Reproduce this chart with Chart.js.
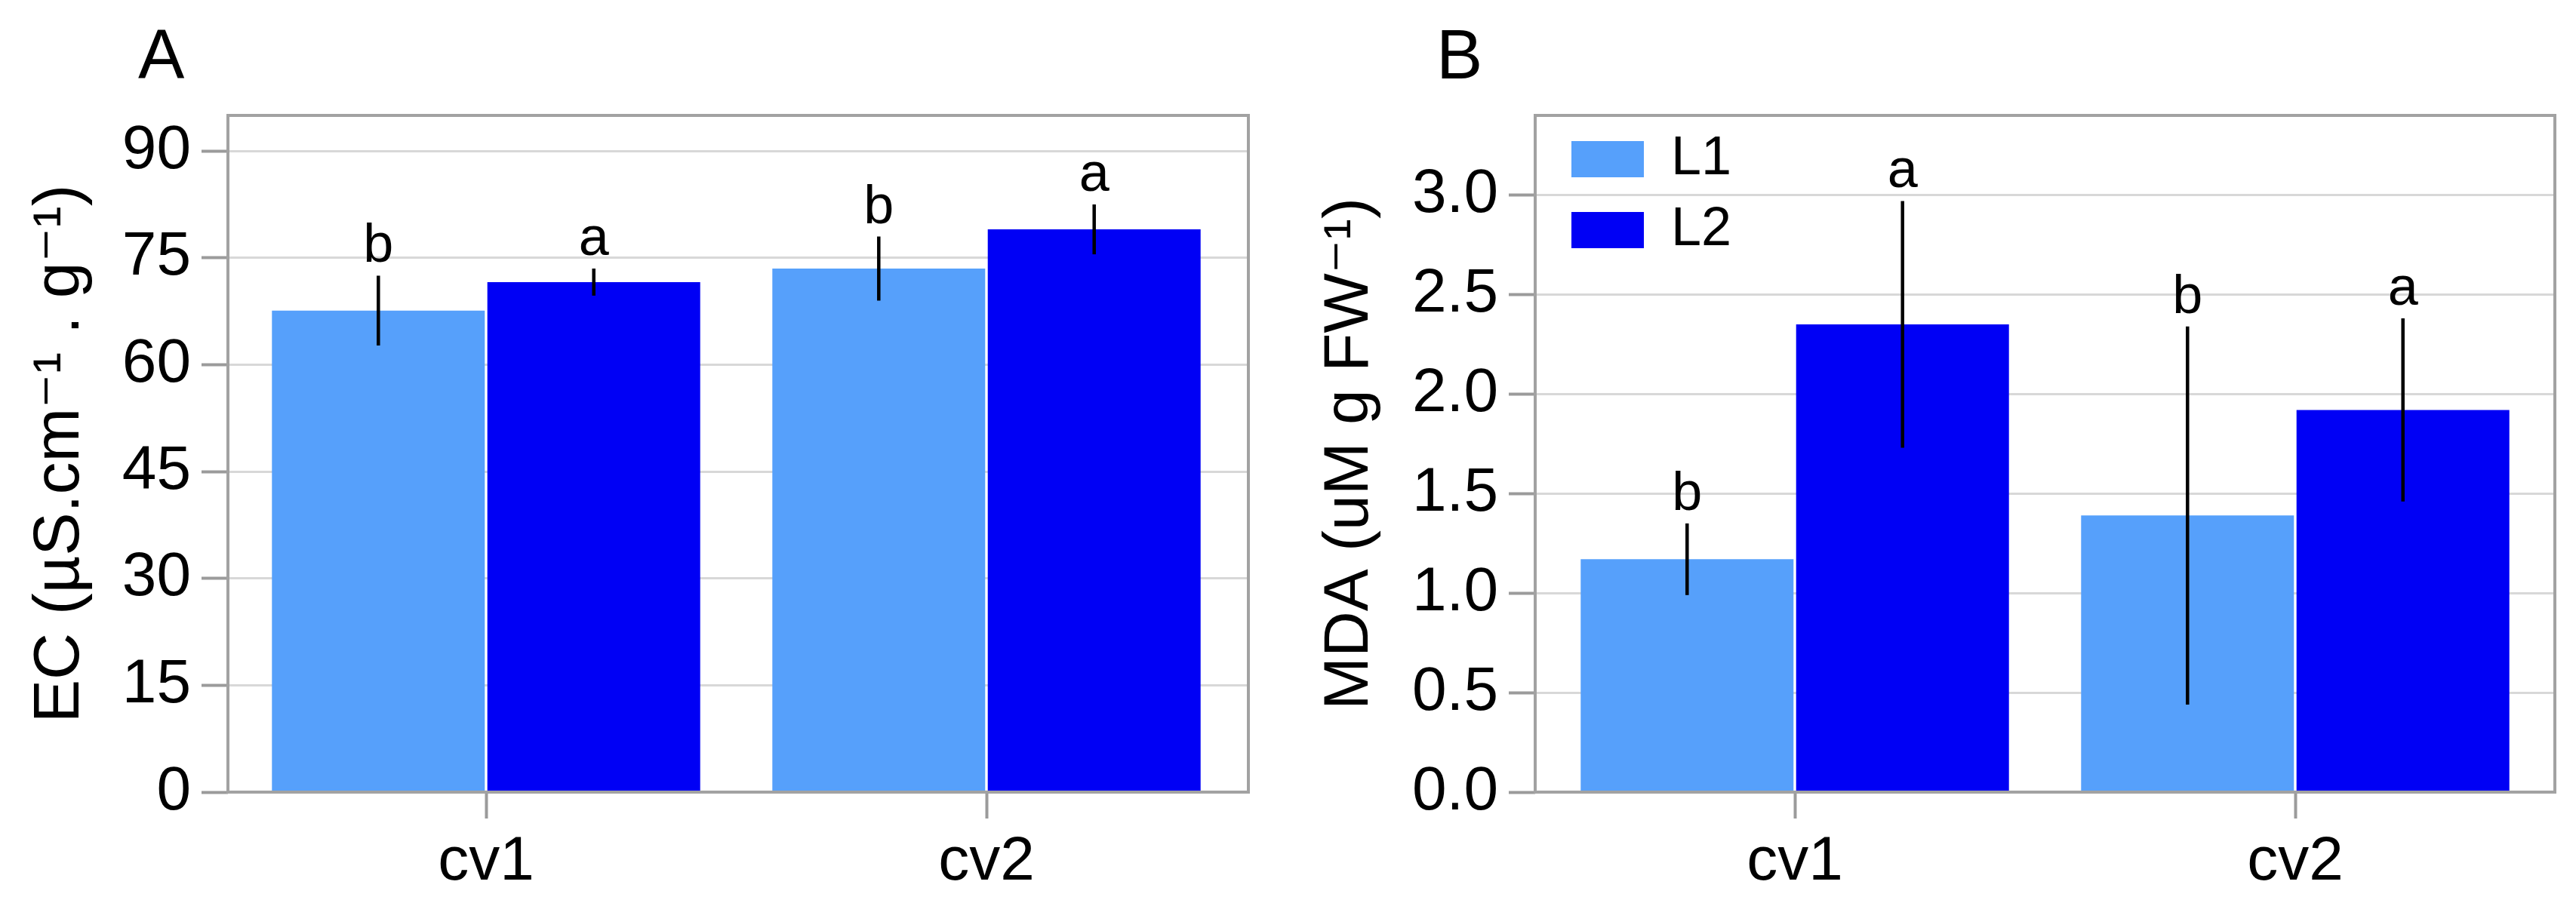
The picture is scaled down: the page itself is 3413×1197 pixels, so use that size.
<!DOCTYPE html>
<html>
<head>
<meta charset="utf-8">
<script src="https://cdn.jsdelivr.net/npm/chart.js@4.4.1/dist/chart.umd.min.js"></script>
<style>
  html, body { margin: 0; padding: 0; background: #fff; }
  #wrap { display: flex; width: 3413px; height: 1197px; }
  canvas { display: block; }
</style>
</head>
<body>
<div id="wrap">
  <canvas id="chartA" width="1706" height="1197" style="width:1706px;height:1197px"></canvas>
  <canvas id="chartB" width="1707" height="1197" style="width:1707px;height:1197px"></canvas>
</div>
<script>
// data
const categories = ['cv1', 'cv2'];

const ecL1 = [67.6, 73.5];
const ecL2 = [71.6, 79.0];
const ecErrL1 = [4.9, 4.5];
const ecErrL2 = [1.9, 3.5];
const ecLettersL1 = ['b', 'b'];
const ecLettersL2 = ['a', 'a'];
const ecTicks = [0, 15, 30, 45, 60, 75, 90];
const ecTickLabels = ['0', '15', '30', '45', '60', '75', '90'];

const mdaL1 = [1.17, 1.39];
const mdaL2 = [2.35, 1.92];
const mdaErrL1 = [0.18, 0.95];
const mdaErrL2 = [0.62, 0.46];
const mdaLettersL1 = ['b', 'b'];
const mdaLettersL2 = ['a', 'a'];
const mdaTicks = [0, 0.5, 1.0, 1.5, 2.0, 2.5, 3.0];
const mdaTickLabels = ['0.0', '0.5', '1.0', '1.5', '2.0', '2.5', '3.0'];

const FONT = '"Liberation Sans", Arial, "DejaVu Sans", sans-serif';
const LIGHT = '#56a0fb';
const DARK = '#0000f5';

Chart.defaults.color = '#000';
Chart.defaults.font.family = FONT;

// grey box round the plot area
const framePlugin = {
  id: 'frame',
  afterDatasetsDraw(chart) {
    const { ctx, chartArea: a } = chart;
    ctx.save();
    ctx.strokeStyle = '#a2a2a2';
    ctx.lineWidth = 4;
    ctx.strokeRect(a.left, a.top, a.right - a.left, a.bottom - a.top);
    ctx.restore();
  }
};

// error bars and significance letters, placed on each bar through the y scale
const errorPlugin = {
  id: 'errors',
  afterDatasetsDraw(chart, args, opts) {
    const { ctx } = chart;
    const y = chart.scales.y;
    ctx.save();
    ctx.strokeStyle = '#000';
    ctx.fillStyle = '#000';
    ctx.lineWidth = 4.5;
    ctx.font = '72px ' + FONT;
    ctx.textAlign = 'center';
    ctx.textBaseline = 'alphabetic';
    opts.errors.forEach((errs, k) => {
      const values = chart.data.datasets[k].data;
      chart.getDatasetMeta(k).data.forEach((bar, i) => {
        const hi = y.getPixelForValue(values[i] + errs[i]);
        const lo = y.getPixelForValue(values[i] - errs[i]);
        ctx.beginPath();
        ctx.moveTo(bar.x, lo);
        ctx.lineTo(bar.x, hi);
        ctx.stroke();
        ctx.fillText(opts.letters[k][i], bar.x, hi - 18);
      });
    });
    ctx.font = '92px ' + FONT;
    ctx.textAlign = 'left';
    ctx.fillText(opts.tag, opts.tagX, 104);
    ctx.restore();
  }
};

// legend into the top-left corner of the plot; x scale slightly inset from the frame
const layoutTweaks = {
  id: 'layoutTweaks',
  afterLayout(chart, args, opts) {
    const a = chart.chartArea;
    const x = chart.scales.x;
    x.left = a.left + opts.insetLeft;
    x.right = a.right - opts.insetRight;
    x.width = x.right - x.left;
    x.configure();
    const lg = chart.legend;
    if (lg && lg.options.display) {
      lg.left = a.left + 26;
      lg.right = a.right;
      lg.top = a.top;
      lg.bottom = a.bottom;
    }
  }
};

function buildPanel(id, p) {
  return new Chart(document.getElementById(id), {
    type: 'bar',
    data: {
      labels: categories,
      datasets: [
        { label: 'L1', data: p.l1, backgroundColor: LIGHT },
        { label: 'L2', data: p.l2, backgroundColor: DARK }
      ]
    },
    options: {
      responsive: false,
      animation: false,
      devicePixelRatio: 1,
      layout: { padding: { top: 153, right: p.padRight, left: 0, bottom: 0 } },
      datasets: {
        bar: { categoryPercentage: 0.861, barPercentage: 0.988, borderWidth: 0 }
      },
      plugins: {
        tooltip: { enabled: false },
        legend: {
          display: p.legend,
          position: 'chartArea',
          align: 'start',
          labels: {
            boxWidth: 96,
            boxHeight: 48,
            padding: 22,
            color: '#000',
            font: { size: 72, family: FONT }
          }
        },
        errors: { errors: [p.e1, p.e2], letters: [p.lt1, p.lt2], tag: p.tag, tagX: p.tagX },
        layoutTweaks: { insetLeft: p.insetLeft, insetRight: p.insetRight }
      },
      scales: {
        x: {
          type: 'category',
          offset: true,
          border: { display: false },
          grid: { offset: false, drawOnChartArea: false, tickLength: 35, tickColor: '#9b9b9b', tickWidth: 4 },
          ticks: { color: '#000', font: { size: 82, family: FONT }, padding: 9, maxRotation: 0 },
          afterFit: (s) => { s.height = 147; }
        },
        y: {
          min: 0,
          max: p.max,
          border: { display: false },
          grid: { color: '#d8d8d8', lineWidth: 3, tickLength: 35, tickColor: '#9b9b9b', tickWidth: 4 },
          afterBuildTicks: (s) => { s.ticks = p.ticks.map((v) => ({ value: v })); },
          ticks: {
            color: '#000',
            font: { size: 82, family: FONT },
            padding: 14,
            callback: (v, i) => p.tickLabels[i]
          },
          title: {
            display: true,
            text: p.title,
            color: '#000',
            font: { size: p.titleSize, family: FONT },
            padding: { top: p.titlePad, bottom: 0 }
          },
          afterFit: (s) => { s.width = p.yWidth; }
        }
      }
    },
    plugins: [framePlugin, errorPlugin, layoutTweaks]
  });
}

buildPanel('chartA', {
  l1: ecL1, l2: ecL2, e1: ecErrL1, e2: ecErrL2, lt1: ecLettersL1, lt2: ecLettersL2,
  ticks: ecTicks, tickLabels: ecTickLabels, max: 95,
  title: 'EC (\u00b5S.cm\u207b\u00b9 . g\u207b\u00b9)', titleSize: 86, titlePad: 29,
  yWidth: 302, padRight: 52, insetLeft: 10.5, insetRight: 15.5,
  legend: false, tag: 'A', tagX: 183
});

buildPanel('chartB', {
  l1: mdaL1, l2: mdaL2, e1: mdaErrL1, e2: mdaErrL2, lt1: mdaLettersL1, lt2: mdaLettersL2,
  ticks: mdaTicks, tickLabels: mdaTickLabels, max: 3.4,
  title: 'MDA (uM g FW\u207b\u00b9)', titleSize: 84, titlePad: 32,
  yWidth: 328, padRight: 28, insetLeft: 12.5, insetRight: 12.5,
  legend: true, tag: 'B', tagX: 197
});
</script>
</body>
</html>
